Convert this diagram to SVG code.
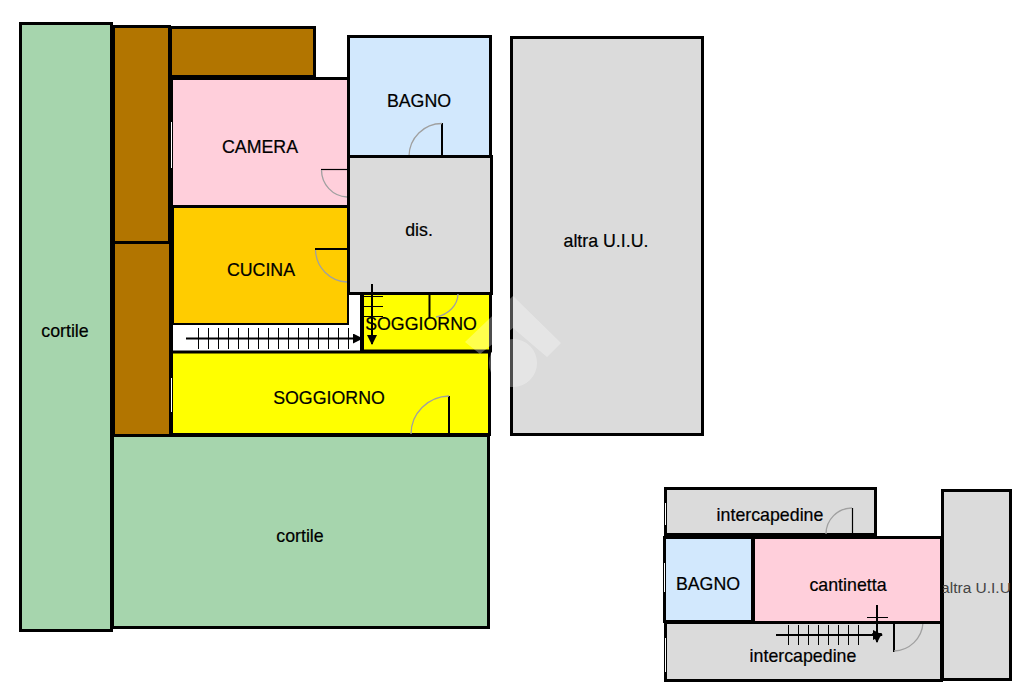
<svg xmlns="http://www.w3.org/2000/svg" width="1024" height="682" viewBox="0 0 1024 682">
<style>
.r{stroke:#000;stroke-width:3}
.green{fill:#a6d5ad}.brown{fill:#b27500}.pink{fill:#ffcfdb}.blue{fill:#d2e8fd}.gray{fill:#dbdbdb}.orange{fill:#ffcc00}.yellow{fill:#ffff00}
text{font-family:"Liberation Sans",Arial,sans-serif;font-size:17.800px;fill:#000;stroke:#000;stroke-width:0.2;text-anchor:middle}
text.faint{font-size:15.500px;fill:#444;stroke:none}
.leaf{fill:none;stroke:#000;stroke-width:2}
.thin{fill:none;stroke:#000;stroke-width:1.2}
.arc{fill:none;stroke:#a0a0a0;stroke-width:1.3}
.st{fill:none;stroke:#000;stroke-width:1}
.run{fill:none;stroke:#000;stroke-width:2}
.win{fill:none;stroke:#fff;stroke-width:1}
</style>
<defs><marker id="ah" markerUnits="userSpaceOnUse" markerWidth="10" markerHeight="12" refX="9" refY="5" orient="auto"><path d="M0 0L10 5L0 10Z" fill="#000"/></marker></defs>
<rect width="1024" height="682" fill="#fff"/>
<g id="cortile-left"><rect class="r green" x="20.500" y="23.500" width="91" height="607"/><text x="65" y="337">cortile</text></g>
<g id="brown-1"><rect class="r brown" x="113.500" y="26.500" width="56" height="216"/></g>
<g id="brown-2"><rect class="r brown" x="113.500" y="242.500" width="57" height="193"/></g>
<g id="brown-3"><rect class="r brown" x="170.500" y="27.500" width="144" height="49"/></g>
<g id="camera"><rect class="r pink" x="171.500" y="78.500" width="177" height="128"/><text x="260" y="153">CAMERA</text>
<path class="thin" d="M321 169.500H348"/><path class="arc" d="M321.500 170A27 27 0 0 0 347 197"/><path class="win" d="M171.500 122V168"/></g>
<g id="bagno"><rect class="r blue" x="348.500" y="36.500" width="142" height="120"/><text x="419" y="107">BAGNO</text>
<path class="leaf" d="M442 123V156"/><path class="arc" d="M442 123.500A33 33 0 0 0 409 156"/></g>
<g id="cucina"><rect class="r orange" x="172.500" y="206.500" width="176" height="118"/><text x="261" y="276">CUCINA</text>
<path class="leaf" d="M315 249H348"/><path class="arc" d="M315.500 250A33 33 0 0 0 347 282"/></g>
<g id="scala"><path d="M172 325H349V294H362V351H172Z" fill="#fff"/><path class="r" fill="none" d="M171.500 351.500V325M361.500 294V351"/></g>
<g id="dis"><rect class="r gray" x="348.500" y="156.500" width="143" height="137"/><text x="419" y="236">dis.</text></g>
<g id="soggiorno-small"><rect class="r yellow" x="362.500" y="293.500" width="128" height="57.500"/><text x="421" y="330">SOGGIORNO</text>
<path class="leaf" d="M429.500 294V318"/><path class="arc" d="M458 294A28 24 0 0 1 436 317"/></g>
<g id="soggiorno-large"><rect class="r yellow" x="171.500" y="352" width="318" height="82.500"/><text x="329" y="404">SOGGIORNO</text>
<path class="leaf" d="M449 396V434"/><path class="arc" d="M449 396A39 38 0 0 0 411 434"/><path class="win" d="M171.500 378V412"/></g>
<g id="cortile-bottom"><rect class="r green" x="112.500" y="435.500" width="376" height="192"/><text x="300" y="542">cortile</text></g>
<g id="altra-uiu"><rect class="r gray" x="511.500" y="37.500" width="191" height="397"/><text x="606" y="247">altra U.I.U.</text></g>
<g id="intercapedine-top"><rect class="r gray" x="665.500" y="488.500" width="210" height="46"/><text x="770" y="521">intercapedine</text>
<path class="thin" d="M852.500 508V534"/><path class="arc" d="M852 508A26 26 0 0 0 826 534"/><path class="win" d="M665.500 503V525"/></g>
<g id="altra-uiu-2"><rect class="r gray" x="942.500" y="490.500" width="68" height="189"/><text class="faint" x="976" y="593">altra U.I.U</text></g>
<g id="intercapedine-bottom"><rect class="r gray" x="665.500" y="622.500" width="276" height="58"/><text x="803" y="662">intercapedine</text>
<path class="leaf" d="M894 622V652"/><path class="arc" d="M894 651A30 30 0 0 0 923 623"/><path class="win" d="M665.500 638V672"/></g>
<g id="bagno-2"><rect class="r blue" x="664.500" y="537.500" width="88" height="84"/><text x="708" y="590">BAGNO</text><path class="win" d="M664.500 563V592"/></g>
<g id="cantinetta"><rect class="r pink" x="753.500" y="537.500" width="188" height="85"/><text x="848" y="591">cantinetta</text></g>
<g id="connectors">
<path class="run" marker-end="url(#ah)" d="M186 338.500H362"/>
<path class="st" d="M198.500 328V349M208.500 328V349M218.500 328V349M228.500 328V349M238.500 328V349M248.500 328V349M258.500 328V349M268.500 328V349M278.500 328V349M288.500 328V349M298.500 328V349M308.500 328V349M318.500 328V349M328.500 328V349M338.500 328V349M348.500 328V349"/>
<path class="run" marker-end="url(#ah)" d="M372 284V344"/>
<path class="st" d="M362 296.500H383M362 306.500H383M362 316.500H383"/>
<path class="run" marker-end="url(#ah)" d="M776 635H882"/>
<path class="st" d="M788.500 625V645M798.500 625V645M808.500 625V645M818.500 625V645M828.500 625V645M838.500 625V645M848.500 625V645M858.500 625V645"/>
<path class="run" marker-end="url(#ah)" d="M877 605V642"/>
<path class="st" d="M867 617.500H888"/>
</g>
<g id="watermark" fill="#fff" opacity="0.3"><path d="M465 342L513 296L561 343L547 357L513 328L480 354Z"/><circle cx="513" cy="363" r="24"/></g>
</svg>
